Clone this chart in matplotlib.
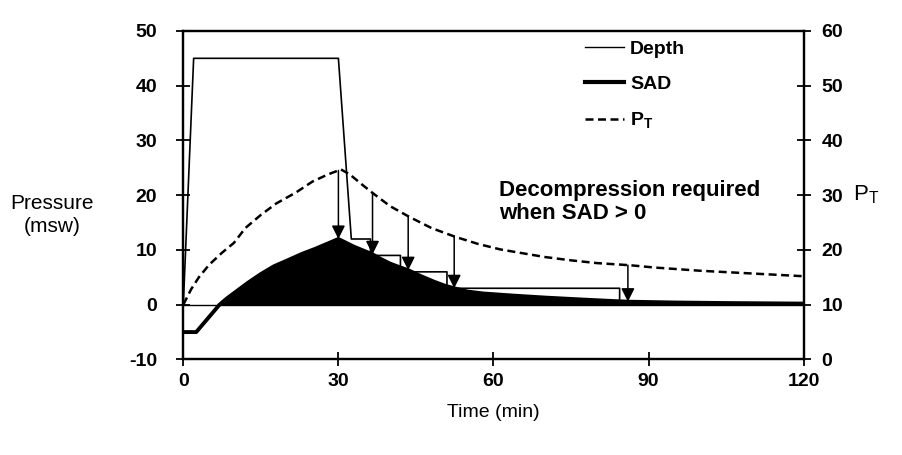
import numpy as np
import matplotlib
matplotlib.use("Agg")
import matplotlib.pyplot as plt
from matplotlib.lines import Line2D

plt.rcParams['font.family'] = ['Liberation Sans', 'DejaVu Sans']
plt.rcParams['mathtext.fontset'] = 'custom'
plt.rcParams['mathtext.rm'] = 'Liberation Sans'
plt.rcParams['mathtext.bf'] = 'Liberation Sans:bold'
plt.rcParams['axes.unicode_minus'] = False

# ---- data ----
depth_t = [0, 2, 30, 32.5, 36.2, 36.2, 42, 42, 51, 51, 84.4, 84.4, 120]
depth_v = [0, 45, 45, 12, 12, 9, 9, 6, 6, 3, 3, 0, 0]

sad_t = [0, 2.5, 7, 8.5, 10.5, 12.5, 15, 17.5, 20.4, 23, 25.5, 28, 30,
         31.5, 33, 34.8, 36.6, 38.3, 40, 41.7, 43.5, 46, 48.5, 50.5, 52.4,
         55, 58, 61, 64, 70, 76, 83.5, 86, 95, 105, 120]
sad_v = [-5, -5, 0, 1.2, 2.6, 4.0, 5.6, 7.0, 8.2, 9.3, 10.2, 11.2, 12,
         11.3, 10.6, 9.9, 9.2, 8.3, 7.5, 6.9, 6.3, 5.2, 4.2, 3.5, 3.0,
         2.4, 2.05, 1.85, 1.65, 1.3, 1.0, 0.65, 0.55, 0.4, 0.3, 0.2]

pt_t = [0, 1.5, 3, 5, 7.5, 9.8, 12, 15, 18, 21.8, 25, 28, 30.5, 32.2,
        34.5, 36.9, 40, 43.6, 48, 52.6, 57, 61.3, 65, 70, 75, 80, 86.5,
        91, 100, 110, 120]
pt_v = [10, 12.8, 15, 17.3, 19.5, 21.3, 24.0, 26.4, 28.5, 30.5, 32.5, 33.8,
        34.7, 33.8, 32.0, 30.2, 28.0, 26.1, 24.0, 22.4, 21.1, 20.1, 19.5,
        18.7, 18.1, 17.6, 17.2, 16.8, 16.2, 15.7, 15.2]

arrow_times = [30, 36.6, 43.5, 52.4, 86]

left_ticks = [-10, 0, 10, 20, 30, 40, 50]
right_ticks = [0, 10, 20, 30, 40, 50, 60]
x_ticks = [0, 30, 60, 90, 120]

# ---- figure ----
fig = plt.figure(figsize=(9.03, 4.55), dpi=100)
ax = fig.add_axes([0.203, 0.21, 0.687, 0.722])
ax2 = ax.twinx()

ax.set_xlim(0, 120)
ax.set_ylim(-10, 50)
ax2.set_ylim(0, 60)

# zero line
ax.axhline(0, color='black', lw=1.0, zorder=2)

# SAD filled area
st = np.array(sad_t, dtype=float)
sv = np.array(sad_v, dtype=float)
ax.fill_between(st, 0, sv, where=sv >= 0, interpolate=True, color='black',
                lw=0, zorder=3)
ax.plot(st, sv, color='black', lw=2.8, zorder=4, solid_joinstyle='round')

# depth
ax.plot(depth_t, depth_v, color='black', lw=1.2, zorder=5)

# P_T on right axis
ax2.plot(pt_t, pt_v, color='black', lw=1.8, dashes=(3.2, 1.8), zorder=5)

# arrows from P_T down to SAD
for ta in arrow_times:
    y0 = np.interp(ta, pt_t, pt_v) - 10.0  # convert to left axis units
    y1 = np.interp(ta, sad_t, sad_v)
    ax.annotate('', xy=(ta, y1), xytext=(ta, y0),
                arrowprops=dict(arrowstyle='-|>', color='black', lw=1.1,
                                mutation_scale=20, shrinkA=0, shrinkB=0),
                zorder=6)

# ticks
ax.set_xticks(x_ticks)
ax.set_yticks(left_ticks)
ax2.set_yticks(right_ticks)
for a in (ax, ax2):
    for sp in a.spines.values():
        sp.set_linewidth(1.6)
ax.tick_params(axis='both', direction='inout', length=10, width=1.3,
               labelsize=14)
ax.tick_params(axis='x', pad=5)
ax.tick_params(axis='y', pad=14)
ax2.tick_params(axis='y', direction='inout', length=10, width=1.3,
                labelsize=14, pad=8)
for lab in ax.get_xticklabels() + ax.get_yticklabels() + ax2.get_yticklabels():
    lab.set_fontweight('bold')

ax.set_xlabel('Time (min)', fontsize=14, labelpad=10)
ax.set_ylabel('Pressure\n(msw)', fontsize=15, rotation=0, ha='center',
              va='center', linespacing=1.3)
ax.yaxis.set_label_coords(-0.212, 0.44)
ax2.set_ylabel(r'P$_\mathregular{T}$', fontsize=16, rotation=0, ha='center',
               va='center')
ax2.yaxis.set_label_coords(1.1, 0.5)

# annotation text
ax.text(61, 18.8, 'Decompression required\nwhen SAD > 0', fontsize=16,
        fontweight='bold', ha='left', va='center', linespacing=1.15)

# legend
handles = [Line2D([], [], color='black', lw=1.0),
           Line2D([], [], color='black', lw=3.0),
           Line2D([], [], color='black', lw=1.8, dashes=(3.2, 1.8))]
labels = ['Depth', 'SAD', r'P$_\mathbf{T}$']
leg = ax.legend(handles, labels, loc='upper left', bbox_to_anchor=(0.62, 1.025),
                frameon=False, handlelength=2.0, handletextpad=0.3,
                labelspacing=0.9, prop={'size': 14, 'weight': 'bold'})
leg.set_zorder(10)

fig.savefig('out.png', dpi=100)
